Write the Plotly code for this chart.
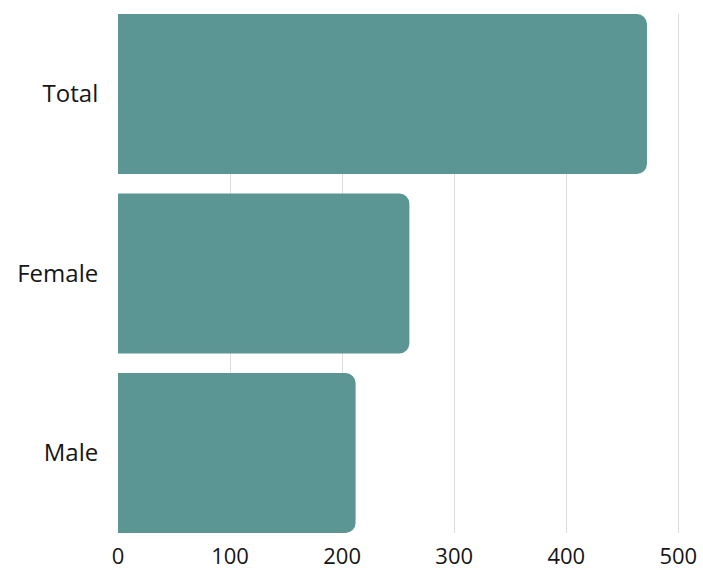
import plotly.graph_objects as go

categories = ["Male", "Female", "Total"]
values = [212, 260, 472]
tick_vals = [0, 100, 200, 300, 400, 500]

fig = go.Figure(go.Bar(
    y=categories, x=values, orientation="h",
    marker=dict(color="#5b9594", cornerradius=10, line=dict(width=0)),
    hoverinfo="x+y",
))
fig.update_layout(
    width=703, height=570,
    margin=dict(l=118, r=0, t=14, b=37, autoexpand=False),
    paper_bgcolor="white", plot_bgcolor="white",
    bargap=0.109,
    showlegend=False,
    font=dict(family="Open Sans, Noto Sans, sans-serif", size=24, color="#161616"),
)
fig.update_xaxes(
    range=[0, 522], tickvals=tick_vals, showgrid=True, gridcolor="#dcdcdc",
    gridwidth=1, zeroline=False, showline=False, automargin=False,
    tickfont=dict(size=22),
    ticks="outside", ticklen=4, tickcolor="rgba(0,0,0,0)",
)
fig.update_yaxes(
    range=[-0.4455, 2.4455], showgrid=False, zeroline=False, showline=False,
    automargin=False,
    ticks="outside", ticklen=14, tickcolor="rgba(0,0,0,0)",
)
fig.write_html("out.html")
